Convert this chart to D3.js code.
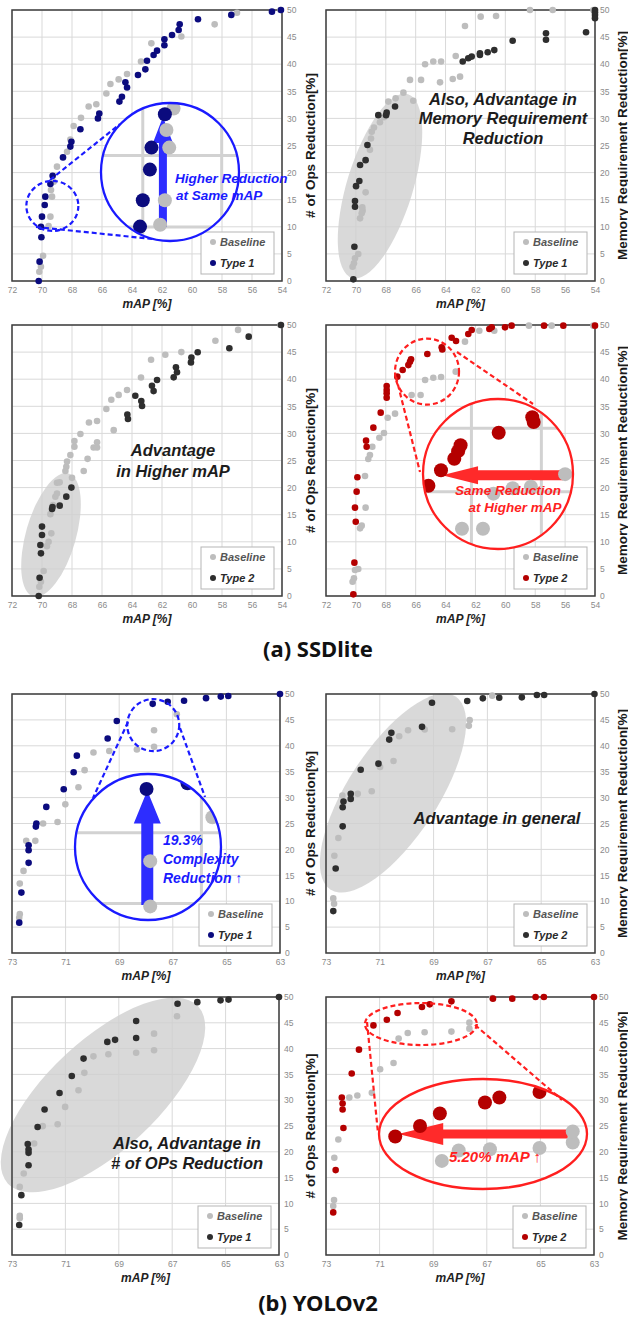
<!DOCTYPE html>
<html><head><meta charset="utf-8">
<script src="https://cdn.jsdelivr.net/npm/d3@7"></script>
<style>body{margin:0;background:#fff}svg{display:block}</style>
</head><body>
<svg id="chart" width="628" height="1325"></svg>
<script>
// ---------- tick labels ----------
const ssdXTicks = [72,70,68,66,64,62,60,58,56,54];
const yoloXTicks = [73,71,69,67,65,63];
const yTicks = [0,5,10,15,20,25,30,35,40,45,50];

// ---------- data: [mAP %, reduction %] ----------
const p1Base = [[70.18,1.72],[70.07,2.64],[69.93,4.67],[69.56,10.15],[69.44,11.87],[69.33,15.56],[69.40,16.8],[69.22,18.3],[69.0,21.1],[68.33,23.86],[68.11,26.1],[67.89,28.6],[67.4,30.1],[66.89,32.2],[66.38,32.6],[65.71,34.6],[65.44,36.35],[64.89,37.2],[64.33,38.2],[63.4,40.5],[62.71,43.85],[60.71,45.1],[58.49,47.35],[57.0,49.5],[54.1,50]];
const p1Type = [[70.22,0],[70.16,3.57],[70.04,8.06],[70.07,10.02],[70.0,11.87],[69.82,14.02],[69.78,15.56],[69.44,17.9],[69.29,19.43],[68.6,22.8],[68.11,24.8],[68.04,25.7],[67.44,28.0],[66.27,30.0],[66.18,30.9],[64.84,33.1],[64.67,34.0],[64.33,35.7],[64.44,36.65],[63.6,38.0],[63.11,39.05],[63.0,40.65],[62.56,41.7],[62.33,42.5],[61.84,43.5],[61.84,44.6],[61.33,45.4],[60.89,46.3],[60.82,47.35],[59.6,48.3],[57.38,49.1],[54.67,49.7],[54.07,50]];

const p2Base = [[70.22,2.64],[70.13,3.26],[70.06,4.18],[69.84,4.98],[69.72,11.56],[69.61,12.48],[69.55,12.98],[69.57,13.6],[69.35,16.36],[69.06,24.2],[68.99,26.3],[68.94,27.55],[68.79,28.3],[68.39,29.3],[68.12,30.2],[67.83,33.1],[67.34,33.7],[66.82,34.75],[66.16,33.27],[66.38,37.1],[65.64,37.1],[65.37,40.0],[64.82,40.5],[64.3,40.5],[64.37,36.65],[63.52,37.27],[63.03,37.7],[63.32,41.5],[62.7,47.05],[61.65,48.77],[60.62,48.9],[58.35,50],[56.83,50],[54.11,50]];
const p2Type = [[70.17,0.3],[70.1,6.33],[70.06,13.7],[70.06,14.76],[69.99,17.5],[69.77,18.45],[69.72,21.4],[69.35,22.3],[69.23,25.1],[68.5,30.6],[67.98,30.6],[67.94,31.06],[67.38,32.2],[62.85,40.5],[62.48,41.1],[62.25,41.4],[61.7,41.7],[61.7,42.0],[61.18,42.2],[60.74,42.6],[59.51,44.34],[57.28,45.7],[57.28,44.5],[54.6,45.9],[54.0,50],[54.0,49.6],[54.0,49.1],[54.0,48.5]];

const p3Base = [[70.18,1.72],[70.07,2.64],[69.89,4.6],[69.67,9.2],[69.56,10.0],[69.38,11.56],[69.44,15.1],[69.27,16.8],[69.11,18.3],[69.0,18.9],[69.0,20.9],[68.82,20.97],[68.0,21.8],[68.44,23.06],[68.38,23.86],[68.33,24.8],[68.11,26.0],[67.84,27.55],[67.84,28.6],[67.44,29.9],[67.22,23.06],[66.96,25.3],[66.56,27.4],[66.33,27.4],[66.33,28.35],[66.87,32.0],[66.33,32.3],[65.71,34.5],[65.38,36.2],[65.22,30.6],[64.89,37.1],[64.33,38.0],[63.4,40.3],[62.73,43.6],[61.78,44.5],[60.71,45.0],[58.44,47.1],[56.93,49.1],[54.1,50]];
const p3Type = [[70.22,0],[70.16,3.38],[70.07,7.87],[70.11,9.4],[70.0,11.25],[70.0,12.8],[69.33,16.05],[69.3,16.4],[68.82,16.67],[68.38,18.33],[68.04,20.0],[64.27,32.66],[64.31,33.5],[63.78,36.96],[63.38,35.98],[63.33,35.05],[62.67,38.8],[62.56,37.8],[62.33,39.85],[61.22,40.34],[61.07,42.2],[61.0,41.27],[60.07,43.1],[60.04,44.0],[59.62,44.96],[57.51,45.7],[56.22,47.85],[54.07,50]];

const p4Base = [[70.22,2.64],[70.13,3.26],[70.06,4.8],[69.84,4.98],[69.72,12.48],[69.61,12.98],[69.35,16.3],[69.39,22.14],[69.17,25.28],[69.06,26.0],[68.9,27.55],[68.43,29.2],[68.12,30.07],[67.87,32.9],[67.38,33.64],[66.27,37.08],[65.67,37.08],[65.37,39.85],[64.82,40.28],[64.3,40.4],[63.32,41.39],[62.7,46.93],[61.74,48.95],[60.74,48.95],[58.42,49.88],[56.9,49.88],[54.11,49.88]];
const p4Type = [[70.17,0.3],[70.1,6.15],[70.01,13.7],[70.06,16.3],[69.95,19.25],[69.9,21.9],[69.28,27.55],[69.32,28.66],[68.83,31.06],[68.34,33.83],[67.94,36.6],[67.94,37.4],[67.94,38.0],[67.94,38.75],[67.23,40.47],[66.87,41.7],[66.49,42.6],[66.38,43.2],[66.31,43.67],[65.22,44.65],[64.26,45.88],[64.22,45.5],[63.59,47.66],[63.3,47.05],[62.48,48.34],[62.25,49.08],[61.07,49.26],[60.91,49.57],[60.02,49.57],[59.58,49.88],[57.41,49.88],[56.12,49.88],[54.0,49.88]];

const p5Base = [[72.73,6.8],[72.71,7.5],[72.71,13.4],[72.57,15.85],[72.47,21.65],[72.13,21.65],[71.84,25.0],[71.3,25.3],[71.01,28.7],[70.52,32.0],[70.29,35.3],[69.96,38.7],[69.37,39.0],[68.34,39.3],[67.7,39.8],[67.7,43.0],[66.85,46.1]];
const p5Type = [[72.73,5.86],[72.65,11.66],[72.38,17.4],[72.38,19.85],[72.38,20.8],[72.11,24.4],[72.09,25.0],[71.72,28.2],[71.07,31.6],[70.7,34.9],[70.58,38.1],[69.43,41.4],[69.09,44.8],[67.75,48.1],[67.19,48.5],[66.58,48.7],[65.76,49.2],[65.21,49.5],[64.93,49.6],[63.0,50]];

const p6Base = [[72.7,9.5],[72.73,10.54],[72.69,18.76],[72.54,22.19],[72.39,30.4],[71.82,30.72],[71.3,31.24],[70.99,35.9],[70.49,37.06],[70.28,41.85],[69.95,43.0],[69.33,43.14],[68.31,43.2],[67.69,43.85],[67.66,44.95],[66.82,49.68]];
const p6Type = [[72.73,8.09],[72.64,16.3],[72.38,24.45],[72.38,28.14],[72.35,29.24],[72.08,29.75],[72.08,30.72],[71.71,35.38],[71.05,36.55],[70.65,41.2],[70.57,42.5],[69.43,43.66],[69.06,48.3],[67.75,48.64],[67.17,49.16],[66.56,49.29],[65.72,49.35],[65.16,49.8],[64.89,49.8],[63.02,50]];

const p7Base = [[72.71,7.1],[72.71,7.6],[72.71,13.2],[72.56,15.8],[72.17,21.6],[71.85,24.97],[71.29,25.35],[71.01,28.7],[70.51,31.94],[70.29,35.3],[69.95,38.5],[69.39,38.9],[68.35,39.2],[67.68,39.68],[67.68,42.9],[66.82,46.26]];
const p7Type = [[72.73,5.8],[72.65,11.6],[72.38,17.4],[72.38,19.8],[72.38,20.45],[72.41,21.5],[72.04,24.8],[71.78,28.2],[71.22,31.4],[70.76,34.7],[70.32,38.06],[69.43,41.3],[69.14,41.7],[68.35,42.06],[68.35,45.35],[66.8,48.7],[66.06,49.0],[65.19,49.35],[64.89,49.5],[63.0,50]];

const p8Base = [[72.73,9.48],[72.7,10.65],[72.69,18.84],[72.54,22.39],[72.13,30.5],[71.83,30.9],[71.29,31.42],[70.98,36.0],[70.48,37.2],[70.29,41.94],[69.95,43.03],[69.32,43.16],[68.32,43.29],[67.65,43.87],[67.65,45.03],[66.8,49.8]];
const p8Type = [[72.73,8.26],[72.64,16.45],[72.35,24.6],[72.38,28.2],[72.38,29.35],[72.41,30.5],[72.04,35.16],[71.77,39.8],[71.23,44.5],[70.73,45.6],[70.33,46.9],[69.42,48.06],[69.13,48.58],[68.32,49.16],[66.77,49.68],[66.05,49.68],[65.18,50],[64.87,50],[63.0,50]];

// zoomed-in focus [mAP, reduction] and arrow ends for the callouts
const p1Focus = [69.31, 13.85], p1Arrow = [[69.49, 10.0], [69.49, 17.7]];
const p4Focus = [65.24, 41.4],  p4Arrow = [[63.38, 41.3], [66.84, 41.3]];
const p5Focus = [67.73, 44.0],  p5Arrow = [[67.74, 39.9], [67.74, 48.0]];
const p8Focus = [69.46, 44.76], p8Arrow = [[67.75, 44.76], [71.17, 44.76]];

// ---------- styles ----------
const FONT = "'Liberation Sans', Arial, Helvetica, sans-serif";
const GRAY = '#bdbdbd', NAVY = '#0b0b7e', DARK = '#2e2e2e', RED = '#b40000';
const BLUE = '#1a1aff', BRED = '#ff1f1f';
const OPS = '# of Ops Reduction[%]', MEM = 'Memory Requirement Reduction[%]';

const svg = d3.select('#chart');

function arrowPts(p0, p1, sw, hl, hw) {
  const dx = p1[0]-p0[0], dy = p1[1]-p0[1], L = Math.hypot(dx, dy);
  const ux = dx/L, uy = dy/L, nx = -uy, ny = ux;
  const bx = p1[0]-ux*hl, by = p1[1]-uy*hl;
  return [[p0[0]+nx*sw/2, p0[1]+ny*sw/2],[bx+nx*sw/2, by+ny*sw/2],[bx+nx*hw/2, by+ny*hw/2],
          [p1[0], p1[1]],[bx-nx*hw/2, by-ny*hw/2],[bx-nx*sw/2, by-ny*sw/2],[p0[0]-nx*sw/2, p0[1]-ny*sw/2]];
}

function drawPanel(c) {
  const x = d3.scaleLinear().domain(c.xDomain).range([c.left, c.right]);
  const y = d3.scaleLinear().domain([0, 50]).range([c.bottom, c.top]);
  const g = svg.append('g');

  g.append('g').selectAll('line').data(c.xTicks).join('line')
    .attr('x1', d => x(d)).attr('x2', d => x(d)).attr('y1', c.top).attr('y2', c.bottom)
    .attr('stroke', '#d9d9d9').attr('stroke-width', 1);
  g.append('g').selectAll('line').data(yTicks).join('line')
    .attr('y1', d => y(d)).attr('y2', d => y(d)).attr('x1', c.left).attr('x2', c.right)
    .attr('stroke', '#d9d9d9').attr('stroke-width', 1);

  if (c.blob) {
    const b = c.blob;
    g.append('ellipse').attr('cx', b.cx).attr('cy', b.cy).attr('rx', b.rx).attr('ry', b.ry)
      .attr('transform', `rotate(${b.rot} ${b.cx} ${b.cy})`)
      .attr('fill', '#cfcfcf').attr('fill-opacity', 0.8);
  }

  g.append('rect').attr('x', c.left).attr('y', c.top)
    .attr('width', c.right - c.left).attr('height', c.bottom - c.top)
    .attr('fill', 'none').attr('stroke', '#3c3c3c').attr('stroke-width', 1.5);

  const ax = g.append('g').attr('transform', `translate(0,${c.bottom})`)
    .call(d3.axisBottom(x).tickValues(c.xTicks).tickSize(0).tickPadding(6).tickFormat(d3.format('d')));
  ax.select('.domain').remove();
  ax.attr('font-family', FONT).attr('font-size', 8.5);
  ax.selectAll('text').attr('fill', '#8a8a8a');
  const ay = g.append('g').attr('transform', `translate(${c.right},0)`)
    .call(d3.axisRight(y).tickValues(yTicks).tickSize(0).tickPadding(5).tickFormat(d3.format('d')));
  ay.select('.domain').remove();
  ay.attr('font-family', FONT).attr('font-size', 8.5);
  ay.selectAll('text').attr('fill', '#8a8a8a');

  g.append('g').selectAll('circle').data(c.base).join('circle')
    .attr('cx', d => x(d[0])).attr('cy', d => y(d[1])).attr('r', 3.3).attr('fill', GRAY);
  g.append('g').selectAll('circle').data(c.type).join('circle')
    .attr('cx', d => x(d[0])).attr('cy', d => y(d[1])).attr('r', 3.3).attr('fill', c.color);

  // axis titles
  g.append('text').attr('x', (c.left + c.right) / 2).attr('y', c.bottom + 27)
    .attr('text-anchor', 'middle').attr('font-family', FONT).attr('font-size', 12)
    .attr('font-weight', 'bold').attr('font-style', 'italic').attr('fill', '#222').text('mAP [%]');
  const ty = (c.top + c.bottom) / 2;
  g.append('text').attr('transform', `translate(${c.yTitleX},${ty}) rotate(-90)`)
    .attr('text-anchor', 'middle').attr('dominant-baseline', 'central')
    .attr('font-family', FONT).attr('font-size', 13.5).attr('font-weight', 'bold')
    .attr('fill', '#1a1a1a').text(c.yTitle);

  // legend
  const lx = c.right - 81, ly = c.bottom - 49;
  const lg = g.append('g');
  lg.append('rect').attr('x', lx).attr('y', ly).attr('width', 73).attr('height', 42)
    .attr('fill', '#fff').attr('stroke', '#b5b5b5').attr('stroke-width', 1);
  [['Baseline', GRAY, 10], [c.label, c.color, 31]].forEach(([t, col, dy]) => {
    lg.append('circle').attr('cx', lx + 12).attr('cy', ly + dy).attr('r', 3).attr('fill', col);
    lg.append('text').attr('x', lx + 19).attr('y', ly + dy + 4).attr('font-family', FONT)
      .attr('font-size', 11).attr('font-weight', 'bold').attr('font-style', 'italic')
      .attr('fill', t === 'Baseline' ? '#555' : '#2a2a2a').text(t);
  });

  // magnified callout
  if (c.inset) {
    const I = c.inset;
    const mx = d3.scaleLinear().domain(x.domain()).range(x.range().map(r => I.cx + (r - x(I.focus[0])) * I.mag));
    const my = d3.scaleLinear().domain(y.domain()).range(y.range().map(r => I.cy + (r - y(I.focus[1])) * I.mag));
    const cid = 'clip' + c.id;
    svg.append('clipPath').attr('id', cid).append('ellipse')
      .attr('cx', I.cx).attr('cy', I.cy).attr('rx', I.rx).attr('ry', I.ry);
    // dashed source ring and connectors
    g.append('ellipse').attr('cx', x(I.focus[0])).attr('cy', y(I.focus[1]))
      .attr('rx', I.srx).attr('ry', I.sry).attr('fill', 'none')
      .attr('stroke', I.col).attr('stroke-width', 2.2).attr('stroke-dasharray', '5,3');
    g.append('g').selectAll('line').data(I.links).join('line')
      .attr('x1', d => d[0]).attr('y1', d => d[1]).attr('x2', d => d[2]).attr('y2', d => d[3])
      .attr('stroke', I.col).attr('stroke-width', 2.2).attr('stroke-dasharray', '5,3');
    const ig = g.append('g').attr('clip-path', `url(#${cid})`);
    if (I.fill) ig.append('ellipse').attr('cx', I.cx).attr('cy', I.cy).attr('rx', I.rx).attr('ry', I.ry).attr('fill', '#fff');
    if (I.grid) {
      ig.append('g').selectAll('line').data(c.xTicks).join('line')
        .attr('x1', d => mx(d)).attr('x2', d => mx(d)).attr('y1', I.cy - I.ry).attr('y2', I.cy + I.ry)
        .attr('stroke', '#d2d2d2').attr('stroke-width', 3);
      ig.append('g').selectAll('line').data(yTicks).join('line')
        .attr('y1', d => my(d)).attr('y2', d => my(d)).attr('x1', I.cx - I.rx).attr('x2', I.cx + I.rx)
        .attr('stroke', '#d2d2d2').attr('stroke-width', 3);
    }
    const a = I.arrow;
    ig.append('path').attr('d', d3.line()(arrowPts([mx(a[0][0]), my(a[0][1])], [mx(a[1][0]), my(a[1][1])], I.sw, I.hl, I.hw)) + 'Z')
      .attr('fill', I.acol);
    ig.append('g').selectAll('circle').data(c.base).join('circle')
      .attr('cx', d => mx(d[0])).attr('cy', d => my(d[1])).attr('r', 7).attr('fill', GRAY);
    ig.append('g').selectAll('circle').data(c.type).join('circle')
      .attr('cx', d => mx(d[0])).attr('cy', d => my(d[1])).attr('r', 7).attr('fill', c.color);
    g.append('ellipse').attr('cx', I.cx).attr('cy', I.cy).attr('rx', I.rx).attr('ry', I.ry)
      .attr('fill', 'none').attr('stroke', I.col).attr('stroke-width', 2.3);
  }

  // annotation text
  (c.notes || []).forEach(n => {
    g.append('text').attr('x', n.x).attr('y', n.y).attr('text-anchor', n.anchor || 'middle')
      .attr('font-family', FONT).attr('font-size', n.size).attr('font-weight', 'bold')
      .attr('font-style', 'italic').attr('fill', n.color).text(n.t);
  });
}

const panels = [
  { id: 1, left: 12, right: 282, top: 10, bottom: 281, xDomain: [72, 54], xTicks: ssdXTicks,
    base: p1Base, type: p1Type, color: NAVY, label: 'Type 1', yTitle: OPS, yTitleX: 310,
    inset: { cx: 170, cy: 172, rx: 69, ry: 69, focus: p1Focus, mag: 2.63, srx: 26, sry: 25,
      col: BLUE, acol: '#2d2dff', fill: true, grid: true, arrow: p1Arrow, sw: 8, hl: 26, hw: 20,
      links: [[50, 180, 120, 124], [36, 227, 153, 239]] },
    notes: [ { t: 'Higher Reduction', x: 175, y: 183, anchor: 'start', size: 13.5, color: BLUE },
             { t: 'at Same mAP', x: 176, y: 200, anchor: 'start', size: 13.5, color: BLUE } ] },
  { id: 2, left: 326, right: 595, top: 10, bottom: 281, xDomain: [72, 54], xTicks: ssdXTicks,
    base: p2Base, type: p2Type, color: DARK, label: 'Type 1', yTitle: MEM, yTitleX: 622,
    blob: { cx: 380, cy: 186, rx: 33, ry: 96, rot: 17 },
    notes: [ { t: 'Also, Advantage in', x: 503, y: 105, size: 16.5, color: '#1c1c1c' },
             { t: 'Memory Requirement', x: 503, y: 124, size: 16.5, color: '#1c1c1c' },
             { t: 'Reduction', x: 503, y: 144, size: 16.5, color: '#1c1c1c' } ] },
  { id: 3, left: 12, right: 282, top: 325, bottom: 596, xDomain: [72, 54], xTicks: ssdXTicks,
    base: p3Base, type: p3Type, color: DARK, label: 'Type 2', yTitle: OPS, yTitleX: 310,
    blob: { cx: 51, cy: 535, rx: 25, ry: 64, rot: 16 },
    notes: [ { t: 'Advantage', x: 173, y: 456, size: 16.5, color: '#1c1c1c' },
             { t: 'in Higher mAP', x: 173, y: 477, size: 16.5, color: '#1c1c1c' } ] },
  { id: 4, left: 326, right: 595, top: 325, bottom: 596, xDomain: [72, 54], xTicks: ssdXTicks,
    base: p4Base, type: p4Type, color: RED, label: 'Type 2', yTitle: MEM, yTitleX: 622,
    inset: { cx: 498, cy: 474, rx: 75, ry: 75, focus: p4Focus, mag: 2.34, srx: 32, sry: 33,
      col: BRED, acol: '#ff2a2a', fill: true, grid: true, arrow: p4Arrow, sw: 10, hl: 36, hw: 18,
      links: [[396, 377, 420, 472], [457, 352, 533, 404]] },
    notes: [ { t: 'Same Reduction', x: 508, y: 495, size: 13.5, color: BRED },
             { t: 'at Higher mAP', x: 515, y: 512, size: 13.5, color: BRED } ] },
  { id: 5, left: 12, right: 280, top: 694, bottom: 953, xDomain: [73, 63], xTicks: yoloXTicks,
    base: p5Base, type: p5Type, color: NAVY, label: 'Type 1', yTitle: OPS, yTitleX: 310,
    inset: { cx: 148, cy: 847, rx: 73, ry: 73, focus: p5Focus, mag: 2.73, srx: 26, sry: 26,
      col: BLUE, acol: '#2d2dff', fill: true, grid: true, arrow: p5Arrow, sw: 12, hl: 33, hw: 27,
      links: [[128, 722, 93, 798], [180, 728, 205, 797]] },
    notes: [ { t: '19.3%', x: 163, y: 845, anchor: 'start', size: 14, color: BLUE },
             { t: 'Complexity', x: 163, y: 864, anchor: 'start', size: 14, color: BLUE },
             { t: 'Reduction \u2191', x: 163, y: 883, anchor: 'start', size: 14, color: BLUE } ] },
  { id: 6, left: 326, right: 595, top: 694, bottom: 953, xDomain: [73, 63], xTicks: yoloXTicks,
    base: p6Base, type: p6Type, color: DARK, label: 'Type 2', yTitle: MEM, yTitleX: 622,
    blob: { cx: 393, cy: 793, rx: 45, ry: 115, rot: 33 },
    notes: [ { t: 'Advantage in general', x: 497, y: 824, size: 16.5, color: '#1c1c1c' } ] },
  { id: 7, left: 12, right: 279, top: 997, bottom: 1255, xDomain: [73, 63], xTicks: yoloXTicks,
    base: p7Base, type: p7Type, color: DARK, label: 'Type 1', yTitle: OPS, yTitleX: 310,
    blob: { cx: 103, cy: 1095, rx: 55, ry: 130, rot: 47 },
    notes: [ { t: 'Also, Advantage in', x: 187, y: 1149, size: 16.5, color: '#1c1c1c' },
             { t: '# of OPs Reduction', x: 187, y: 1169, size: 16.5, color: '#1c1c1c' } ] },
  { id: 8, left: 326, right: 594, top: 997, bottom: 1255, xDomain: [73, 63], xTicks: yoloXTicks,
    base: p8Base, type: p8Type, color: RED, label: 'Type 2', yTitle: MEM, yTitleX: 622,
    inset: { cx: 483, cy: 1134, rx: 104, ry: 55, focus: p8Focus, mag: 1.85, srx: 56, sry: 21,
      col: BRED, acol: '#ff2a2a', fill: false, grid: false, arrow: p8Arrow, sw: 9, hl: 45, hw: 22,
      links: [[367, 1022, 378, 1133], [475, 1025, 562, 1100]] },
    notes: [ { t: '5.20% mAP \u2191', x: 495, y: 1162, size: 15, color: BRED } ] }
];

panels.forEach(drawPanel);

// section captions
[['(a) SSDlite', 657], ['(b) YOLOv2', 1311]].forEach(([t, yy]) => {
  svg.append('text').attr('x', 318).attr('y', yy).attr('text-anchor', 'middle')
    .attr('font-family', "'Noto Sans', 'Open Sans', sans-serif").attr('font-size', 22)
    .attr('font-weight', 'bold').attr('fill', '#111').text(t);
});
</script>
</body></html>
